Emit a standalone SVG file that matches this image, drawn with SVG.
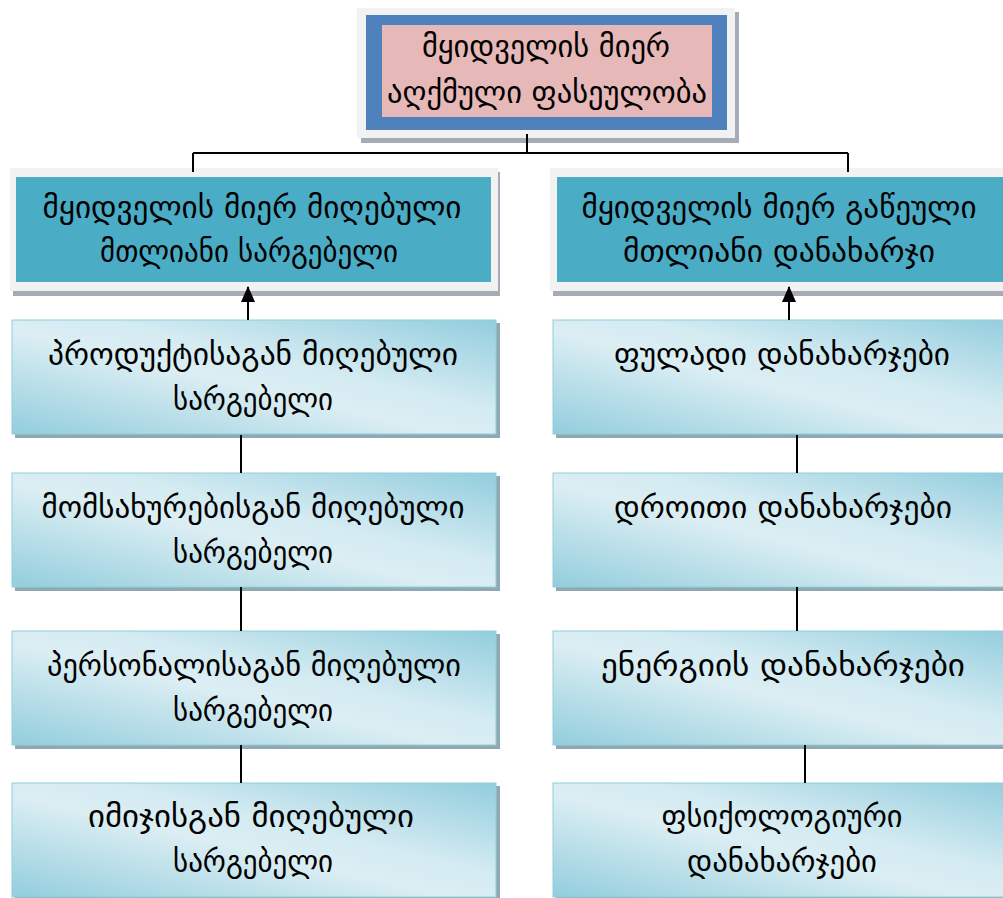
<svg xmlns="http://www.w3.org/2000/svg" width="1003" height="898" viewBox="0 0 1003 898">
<defs>
<linearGradient id="g" x1="0" y1="1" x2="1" y2="0">
<stop offset="0" stop-color="#93cddd"/>
<stop offset="0.45" stop-color="#dbeef3"/>
<stop offset="0.6" stop-color="#d4ebf2"/>
<stop offset="1" stop-color="#93cddd"/>
</linearGradient>
<marker id="arr" markerWidth="16" markerHeight="16" refX="15" refY="8" orient="auto" markerUnits="userSpaceOnUse" viewBox="0 0 16 16">
<path d="M0,1 L16,8 L0,15 Z" fill="#000"/>
</marker>
</defs>
<style>
text{font-family:"DejaVu Sans",sans-serif;fill:#000;text-anchor:middle;font-size:30px}
.sh{fill:#8fa9b3}
.frame{fill:#f2f2f2}
.hsh{fill:#a6acb5}
.box{fill:url(#g);stroke:#92cddc;stroke-width:1}
.ln{stroke:#000;stroke-width:2;fill:none}
</style>
<rect width="1003" height="898" fill="#fff"/>
<g id="top">
<rect class="hsh" x="361" y="12" width="378" height="131"/>
<rect class="frame" x="357" y="8" width="378" height="130"/>
<rect x="366" y="15" width="361" height="115" fill="#4f81bd"/>
<rect x="382" y="25" width="330" height="92" fill="#e6b8b7"/>
<text x="546" y="57" textLength="248" lengthAdjust="spacingAndGlyphs">მყიდველის მიერ</text>
<text x="547" y="103" textLength="320" lengthAdjust="spacingAndGlyphs">აღქმული ფასეულობა</text>
</g>
<g id="benefit">
<rect class="hsh" x="13" y="172" width="487" height="124"/>
<rect class="frame" x="10" y="168" width="488" height="123"/>
<rect x="16" y="177" width="475" height="105" fill="#4bacc6"/>
<text x="252" y="218" textLength="419" lengthAdjust="spacingAndGlyphs">მყიდველის მიერ მიღებული</text>
<text x="249" y="262" textLength="298" lengthAdjust="spacingAndGlyphs">მთლიანი სარგებელი</text>
</g>
<g id="cost">
<rect class="hsh" x="553" y="172" width="460" height="124"/>
<rect class="frame" x="550" y="168" width="460" height="123"/>
<rect x="557" y="177" width="446" height="105" fill="#4bacc6"/>
<text x="779" y="218" textLength="395" lengthAdjust="spacingAndGlyphs">მყიდველის მიერ გაწეული</text>
<text x="779" y="262" textLength="312" lengthAdjust="spacingAndGlyphs">მთლიანი დანახარჯი</text>
</g>
<g id="l1">
<rect class="sh" x="15" y="323" width="485" height="115"/>
<rect class="box" x="12" y="320" width="484" height="114"/>
<text x="253" y="365" textLength="410" lengthAdjust="spacingAndGlyphs">პროდუქტისაგან მიღებული</text>
<text x="253" y="410" textLength="160" lengthAdjust="spacingAndGlyphs">სარგებელი</text>
</g>
<g id="l2">
<rect class="sh" x="15" y="476" width="485" height="115"/>
<rect class="box" x="12" y="473" width="484" height="114"/>
<text x="253" y="518" textLength="423" lengthAdjust="spacingAndGlyphs">მომსახურებისგან მიღებული</text>
<text x="253" y="563" textLength="160" lengthAdjust="spacingAndGlyphs">სარგებელი</text>
</g>
<g id="l3">
<rect class="sh" x="15" y="634" width="485" height="115"/>
<rect class="box" x="12" y="631" width="484" height="114"/>
<text x="254" y="676" textLength="414" lengthAdjust="spacingAndGlyphs">პერსონალისაგან მიღებული</text>
<text x="253" y="721" textLength="160" lengthAdjust="spacingAndGlyphs">სარგებელი</text>
</g>
<g id="l4">
<rect class="sh" x="15" y="786" width="485" height="115"/>
<rect class="box" x="12" y="783" width="484" height="114"/>
<text x="251" y="827" textLength="326" lengthAdjust="spacingAndGlyphs">იმიჯისგან მიღებული</text>
<text x="253" y="872" textLength="160" lengthAdjust="spacingAndGlyphs">სარგებელი</text>
</g>
<g id="r1">
<rect class="sh" x="556" y="323" width="460" height="115"/>
<rect class="box" x="553" y="320" width="460" height="114"/>
<text x="782" y="365" textLength="336" lengthAdjust="spacingAndGlyphs">ფულადი დანახარჯები</text>
</g>
<g id="r2">
<rect class="sh" x="556" y="476" width="460" height="115"/>
<rect class="box" x="553" y="473" width="460" height="114"/>
<text x="783" y="518" textLength="338" lengthAdjust="spacingAndGlyphs">დროითი დანახარჯები</text>
</g>
<g id="r3">
<rect class="sh" x="556" y="634" width="460" height="115"/>
<rect class="box" x="553" y="631" width="460" height="114"/>
<text x="783" y="676" textLength="364" lengthAdjust="spacingAndGlyphs">ენერგიის დანახარჯები</text>
</g>
<g id="r4">
<rect class="sh" x="556" y="786" width="460" height="115"/>
<rect class="box" x="553" y="783" width="460" height="114"/>
<text x="782" y="827" textLength="241" lengthAdjust="spacingAndGlyphs">ფსიქოლოგიური</text>
<text x="782" y="872" textLength="190" lengthAdjust="spacingAndGlyphs">დანახარჯები</text>
</g>
<g id="connectors">
<path class="ln" d="M527,134 V153 M193,153 H848 M193,153 V172 M848,153 V172"/>
<path class="ln" d="M248,320 V287" marker-end="url(#arr)"/>
<path class="ln" d="M789,320 V287" marker-end="url(#arr)"/>
<path class="ln" d="M241,435 V473 M241,587 V631 M241,745 V783"/>
<path class="ln" d="M797,435 V473 M797,587 V631 M805,745 V783"/>
</g>
</svg>
